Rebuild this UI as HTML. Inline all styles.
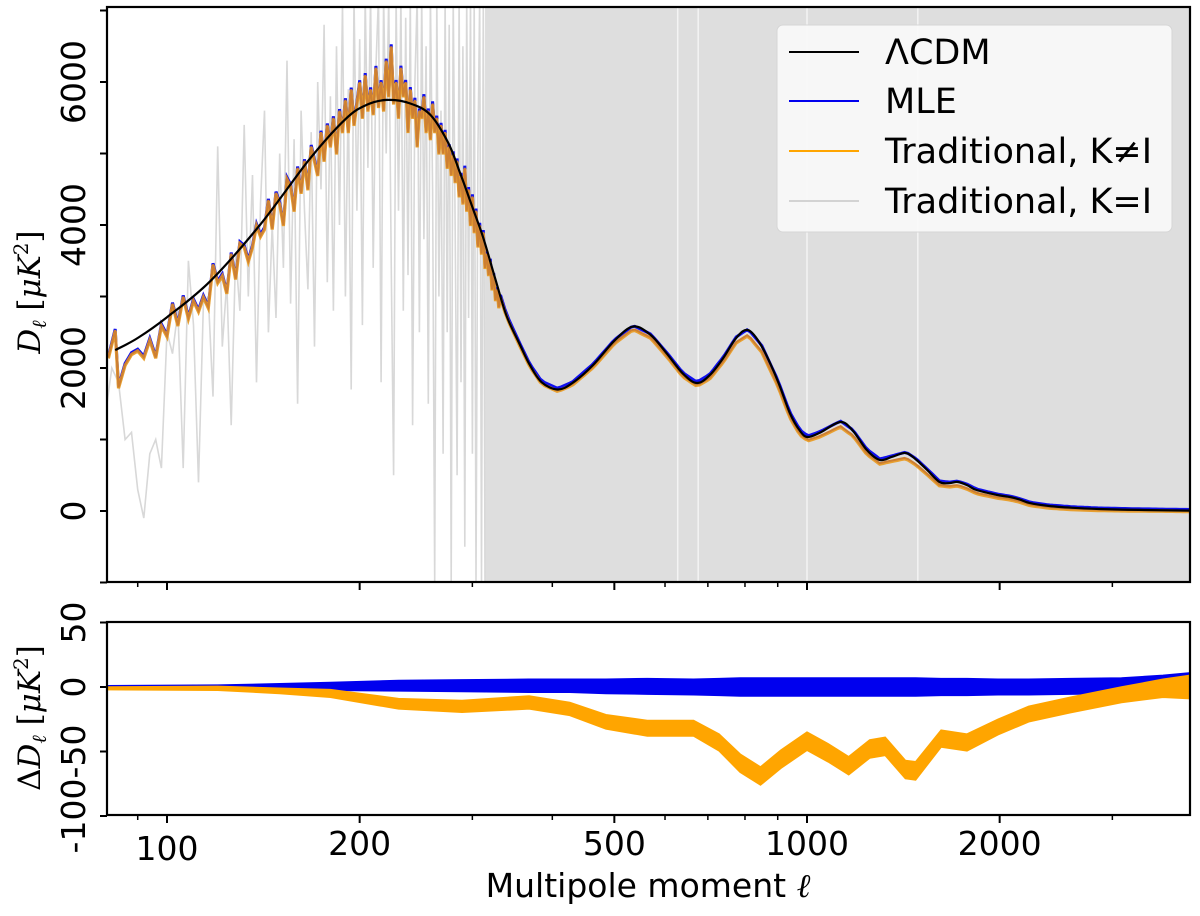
<!DOCTYPE html>
<html><head><meta charset="utf-8">
<style>
html,body{margin:0;padding:0;background:#fff;}
svg{display:block;font-family:"DejaVu Sans","Liberation Sans",sans-serif;}
</style></head>
<body>
<svg id="chart" xmlns="http://www.w3.org/2000/svg" width="1200" height="916" viewBox="0 0 1200 916">
  <defs>
    <clipPath id="clipTop"><rect x="107" y="7" width="1083" height="575"/></clipPath>
    <clipPath id="clipBot"><rect x="107" y="622" width="1083" height="193"/></clipPath>
  </defs>
  <rect x="0" y="0" width="1200" height="916" fill="#fff"/>
  <g id="topMarks" clip-path="url(#clipTop)"></g>
  <g id="botMarks" clip-path="url(#clipBot)"></g>
  <g id="axes"></g>
  <rect x="107" y="7" width="1083" height="575" fill="none" stroke="#000" stroke-width="2.2"/>
  <rect x="107" y="622" width="1083" height="193" fill="none" stroke="#000" stroke-width="2.2"/>
  <g>
    <rect x="777" y="25" width="395" height="207" rx="6" fill="#fafafa" fill-opacity="0.9" stroke="#d6d6d6" stroke-width="1"/>
    <line x1="789" y1="52" x2="859" y2="52" stroke="#000" stroke-width="2"/>
    <text x="885" y="64" font-size="35">ΛCDM</text>
    <line x1="789" y1="101" x2="859" y2="101" stroke="#0000ee" stroke-width="2"/>
    <text x="885" y="113" font-size="35">MLE</text>
    <line x1="789" y1="151" x2="859" y2="151" stroke="#ffa500" stroke-width="2"/>
    <text x="885" y="163" font-size="35">Traditional, K≠I</text>
    <line x1="789" y1="201" x2="859" y2="201" stroke="#d3d3d3" stroke-width="2"/>
    <text x="885" y="213" font-size="35">Traditional, K=I</text>
  </g>
  <text transform="translate(40,292) rotate(-90)" text-anchor="middle" font-size="31" font-family="'DejaVu Serif','Liberation Serif',serif"><tspan font-style="italic">D</tspan><tspan font-style="italic" font-size="20" dy="6">ℓ</tspan><tspan dy="-6"> [</tspan><tspan font-style="italic">μK</tspan><tspan font-size="20" dy="-12">2</tspan><tspan dy="12">]</tspan></text>
  <text transform="translate(40,718) rotate(-90)" text-anchor="middle" font-size="31" font-family="'DejaVu Serif','Liberation Serif',serif"><tspan>Δ</tspan><tspan font-style="italic">D</tspan><tspan font-style="italic" font-size="20" dy="6">ℓ</tspan><tspan dy="-6"> [</tspan><tspan font-style="italic">μK</tspan><tspan font-size="20" dy="-12">2</tspan><tspan dy="12">]</tspan></text>
  <text x="648" y="897" text-anchor="middle" font-size="33">Multipole moment <tspan font-style="italic" font-family="'DejaVu Serif',serif">ℓ</tspan></text>
</svg>
<script>
// ---- data ----
const lcdmEll = [83,90,100,117,140,167,190,205,221,240,258,275,287,300,312,325,339,355,369,385,408,430,463,500,535,570,604,640,673,705,740,775,809,850,900,940,975,1003,1050,1128,1180,1240,1300,1360,1427,1480,1541,1611,1670,1720,1780,1840,1983,2075,2150,2230,2390,2600,2860,3300,3970];
const lcdmD = [2250,2420,2710,3220,4010,4920,5480,5680,5750,5700,5540,5150,4730,4250,3820,3280,2740,2350,2040,1800,1700,1790,2040,2380,2580,2460,2200,1920,1790,1900,2140,2420,2530,2300,1820,1370,1120,1035,1100,1245,1120,853,713,760,811,720,573,406,390,406,360,294,224,196,160,110,70,45,28,15,5];

const lowEll = [81,83,84,86,88,90,92,94,96,98,100,102,104,106,108,110,112,114,116,118,120,122,124,126,128,130,132,134,136,138,140,142,144,146,148,150,152,154,156,158,160,162,164,166,168,170,172,174,176,178,180,182,184,186,188,190,192,194,196,198,200,202,204,206,208,210,212,214,216,218,220,222,224,226,228,230,232,234,236,238,240,242,244,246,248,250,252,254,256,258,260,262,264,266,268,270,272,274,276,278,280,282,284,286,288,290,292,294,296,298,300,302,304,306,308,310,312,314,316,318,320,322,324,326,328,330];
const orangeLow = [2150,2530,1730,2050,2200,2250,2150,2400,2150,2600,2450,2900,2600,3000,2700,2950,2800,3000,2850,3450,3200,3300,3050,3600,3250,3750,3700,3500,3700,4000,3850,3950,4350,3950,4450,4300,4000,4650,4550,4200,4800,4450,4900,4500,5100,4900,4700,5300,4900,5400,5100,5500,5000,5600,5300,5750,5300,5900,5400,5700,6000,5500,6100,5600,5900,5550,6200,5650,6000,5600,6300,5800,6500,5700,6000,5500,6200,5800,6000,5300,5900,5500,5750,5100,5600,5500,5800,5300,5600,5200,5700,5300,5500,5000,5400,5000,5300,4800,5100,4700,5000,4600,4900,4400,4700,4300,4800,4200,4500,4000,4400,3900,4200,3700,4000,3600,3900,3400,3600,3300,3500,3100,3300,2950,3100,2850];

const grayEll = [80,82,84,86,88,90,92,94,96,98,100,102,104,106,108,110,112,114,116,118,120,122,124,126,128,130,132,134,136,138,140,142,144,146,148,150,152,154,156,158,160,162,164,166,168,170,172,174,176,178,180,182,184,186,188,190,192,194,196,198,200,202,204,206,208,210,212,214,216,218,220,222,224,226,228,230,232,234,236,238,240,242,244,246,248,250,252,254,256,258,260,262,264,266,268,270,272,274,276,278,280,282,284,286,288,290,292,294,296,298,300,302,304,306,308,310,312,314];
const grayD = [1300,2000,1800,1000,1100,300,-100,800,1000,600,2500,2200,2800,600,3500,2600,400,2900,3000,1600,5100,2300,3200,1200,3600,2800,5400,3000,4700,1800,4300,5600,2500,4000,2700,5000,3400,6300,2900,5200,1500,5600,4200,3100,5300,2300,6000,4500,6800,3200,5800,2800,6500,4000,7100,3000,5900,1700,7200,4200,6600,2600,7200,4800,7200,3400,6200,7200,1800,7200,5000,7200,3500,500,7200,4200,7200,2800,6900,3300,7200,1200,6000,7200,2500,7200,3800,6500,1500,7200,4500,-1000,7200,3000,5600,800,7200,2500,6800,-1000,7200,3900,500,7200,1800,6500,-500,7200,2700,7200,800,7200,-1000,5000,7200,-1000,7200,-1000];
const grayBandEll = [314,3970];
const grayBandLo = [-1000,-1000];
const grayBandHi = [7200,7200];
const grayGapEll = [628,676,1000,1490];

const residEll = [80,120,150,180,230,289,368,426,485,563,665,729,786,846,910,1000,1079,1162,1253,1325,1425,1478,1620,1778,1988,2220,2575,3100,3600,3970];
const residOrange = [-1,-1,-3,-5,-13,-15,-12,-17,-27,-32,-32,-43,-59,-69,-56,-42,-51,-61,-48,-46,-64,-65,-40,-43,-31,-21,-14,-6,-1,0];
const scatterOrange = [1,1.5,2,3,4,4.5,5,5,5.5,6,6,6.5,7,7,7,7,7,7,7,7,7,7,6.5,6.5,6,6,6,6,7,9];
const residBlue = [0,0,0.5,0.5,1,1,1,1,0.5,0.5,0,0,0,0,0,0,0,0,0,0,0,0,0,0,0,0,0.5,1,2,2];
const scatterBlue = [1,1.5,2,3,4,4.5,5,5,5.5,6,6,6.5,7,7,7,7,7,7,7,7,7,7,6.5,6.5,6,6,6,6,7,9];

const topYTicks = [-1000,0,1000,2000,3000,4000,5000,6000,7000];
const topYLabels = ["0","2000","4000","6000"];
const botYTicks = [50,0,-50,-100];
const botYLabels = ["50","0","-50","-100"];
const xMajor = [100,200,500,1000,2000];
const xMajorLabels = ["100","200","500","1000","2000"];
const xMinor = [90,300,400,600,700,800,900,3000];

// ---- scales ----
const X = l => 167 + 640 * (Math.log10(l) - 2);
const YT = d => 511 - d * 0.0715;
const YB = v => 687 - v * 1.29;
const NS = "http://www.w3.org/2000/svg";
function interp(xs, ys, x) {
  if (x <= xs[0]) return ys[0];
  if (x >= xs[xs.length - 1]) return ys[ys.length - 1];
  for (let i = 1; i < xs.length; i++) {
    if (x <= xs[i]) {
      const t = (Math.log(x) - Math.log(xs[i - 1])) / (Math.log(xs[i]) - Math.log(xs[i - 1]));
      return ys[i - 1] + t * (ys[i] - ys[i - 1]);
    }
  }
  return ys[ys.length - 1];
}
function mk(tag, attrs, parent) {
  const e = document.createElementNS(NS, tag);
  for (const k in attrs) e.setAttribute(k, attrs[k]);
  parent.appendChild(e);
  return e;
}
function smoothPath(pts) {
  let d = "M" + pts[0][0].toFixed(1) + "," + pts[0][1].toFixed(1);
  for (let i = 0; i < pts.length - 1; i++) {
    const p0 = pts[Math.max(0, i - 1)], p1 = pts[i], p2 = pts[i + 1], p3 = pts[Math.min(pts.length - 1, i + 2)];
    const c1x = p1[0] + (p2[0] - p0[0]) / 6, c1y = p1[1] + (p2[1] - p0[1]) / 6;
    const c2x = p2[0] - (p3[0] - p1[0]) / 6, c2y = p2[1] - (p3[1] - p1[1]) / 6;
    d += "C" + c1x.toFixed(1) + "," + c1y.toFixed(1) + " " + c2x.toFixed(1) + "," + c2y.toFixed(1) + " " + p2[0].toFixed(1) + "," + p2[1].toFixed(1);
  }
  return d;
}
const topG = document.getElementById("topMarks");
const botG = document.getElementById("botMarks");
const axG = document.getElementById("axes");

// ---- top panel: gray K=I ----
const band = mk("rect", {x: X(grayBandEll[0]), y: YT(grayBandHi[0]), width: X(grayBandEll[1]) - X(grayBandEll[0]) + 10, height: YT(grayBandLo[0]) - YT(grayBandHi[0]), fill: "#dedede"}, topG);


grayGapEll.forEach(l => {
  const g = mk("line", {x1: X(l), x2: X(l), y1: 7, y2: 582, stroke: "#f4f4f4", "stroke-width": 1.5}, topG);
  
  
});
const grayPts = [];
grayEll.forEach((l, i) => { if (grayD[i] !== undefined) grayPts.push(X(l).toFixed(1) + "," + YT(grayD[i]).toFixed(1)); });
const grayLine = mk("polyline", {points: grayPts.join(" "), fill: "none", stroke: "#d8d8d8", "stroke-width": 1.6}, topG);



// ---- top panel: blue & orange ----
const hiEll = [];
for (let l = 332; l <= 3970; l = Math.round(l * 1.012 + 1)) hiEll.push(l);
const lowN = Math.min(lowEll.length, orangeLow.length);
const bluePts = [], orangePts = [];
for (let i = 0; i < lowN; i++) {
  const l = lowEll[i];
  bluePts.push([X(l), YT(orangeLow[i] - interp(residEll, residOrange, l) + interp(residEll, residBlue, l))]);
  orangePts.push([X(l), YT(orangeLow[i])]);
}
hiEll.forEach(l => {
  const base = interp(lcdmEll, lcdmD, l);
  bluePts.push([X(l), YT(base + interp(residEll, residBlue, l))]);
  orangePts.push([X(l), YT(base + interp(residEll, residOrange, l))]);
});
const bTop = mk("polyline", {points: bluePts.map(p => p[0].toFixed(1) + "," + (p[1] - 1).toFixed(1)).join(" "), fill: "none", stroke: "#1010ee", "stroke-width": 3}, topG);


const oTop = mk("polyline", {points: orangePts.map(p => p[0].toFixed(1) + "," + (p[1] + 1).toFixed(1)).join(" "), fill: "none", stroke: "#e8a030", "stroke-width": 3.2}, topG);


const oTop2 = mk("polyline", {points: orangePts.map(p => p[0].toFixed(1) + "," + p[1].toFixed(1)).join(" "), fill: "none", stroke: "#cd7f32", "stroke-width": 2}, topG);


const lc = mk("path", {d: smoothPath(lcdmEll.map((l, i) => [X(l), YT(lcdmD[i])])), fill: "none", stroke: "#000", "stroke-width": 2.2}, topG);



// ---- bottom panel residuals ----
function bandPath(mean, sc) {
  const up = residEll.map((l, i) => X(l).toFixed(1) + "," + YB(mean[i] + sc[i]).toFixed(1));
  const dn = residEll.map((l, i) => X(l).toFixed(1) + "," + YB(mean[i] - sc[i]).toFixed(1)).reverse();
  return "M" + up.join("L") + "L" + dn.join("L") + "Z";
}
const bBand = mk("path", {d: bandPath(residBlue, scatterBlue), fill: "#0000ee", stroke: "#0000ee", "stroke-width": 1.5}, botG);


const oBand = mk("path", {d: bandPath(residOrange, scatterOrange), fill: "#ffa500", stroke: "#ffa500", "stroke-width": 1.5}, botG);



// ---- axes ticks ----
topYTicks.forEach(v => {
  const t = mk("line", {x1: 100, x2: 107, y1: YT(v), y2: YT(v), stroke: "#000", "stroke-width": 2}, axG);
  
  
});
topYLabels.forEach(s => {
  const v = +s;
  const t = mk("text", {transform: "translate(85," + YT(v).toFixed(1) + ") rotate(-90)", "text-anchor": "middle", "font-size": 33}, axG);
  t.textContent = s;
  
  
});
botYTicks.forEach(v => {
  const t = mk("line", {x1: 100, x2: 107, y1: YB(v), y2: YB(v), stroke: "#000", "stroke-width": 2}, axG);
  
  
});
botYLabels.forEach(s => {
  const v = +s;
  const t = mk("text", {transform: "translate(85," + YB(v).toFixed(1) + ") rotate(-90)", "text-anchor": "middle", "font-size": 33}, axG);
  t.textContent = s;
  
  
});
[582, 815].forEach(y0 => {
  xMajor.forEach(l => {
    const t = mk("line", {x1: X(l), x2: X(l), y1: y0, y2: y0 + 8, stroke: "#000", "stroke-width": 2}, axG);
    
    
  });
  xMinor.forEach(l => {
    const t = mk("line", {x1: X(l), x2: X(l), y1: y0, y2: y0 + 5, stroke: "#000", "stroke-width": 1.5}, axG);
    
    
  });
});
xMajorLabels.forEach((s, i) => {
  const t = mk("text", {x: X(xMajor[i]), y: i === 0 ? 860 : 855, "text-anchor": "middle", "font-size": 33}, axG);
  t.textContent = s;
  
  
});
</script>
</body></html>
